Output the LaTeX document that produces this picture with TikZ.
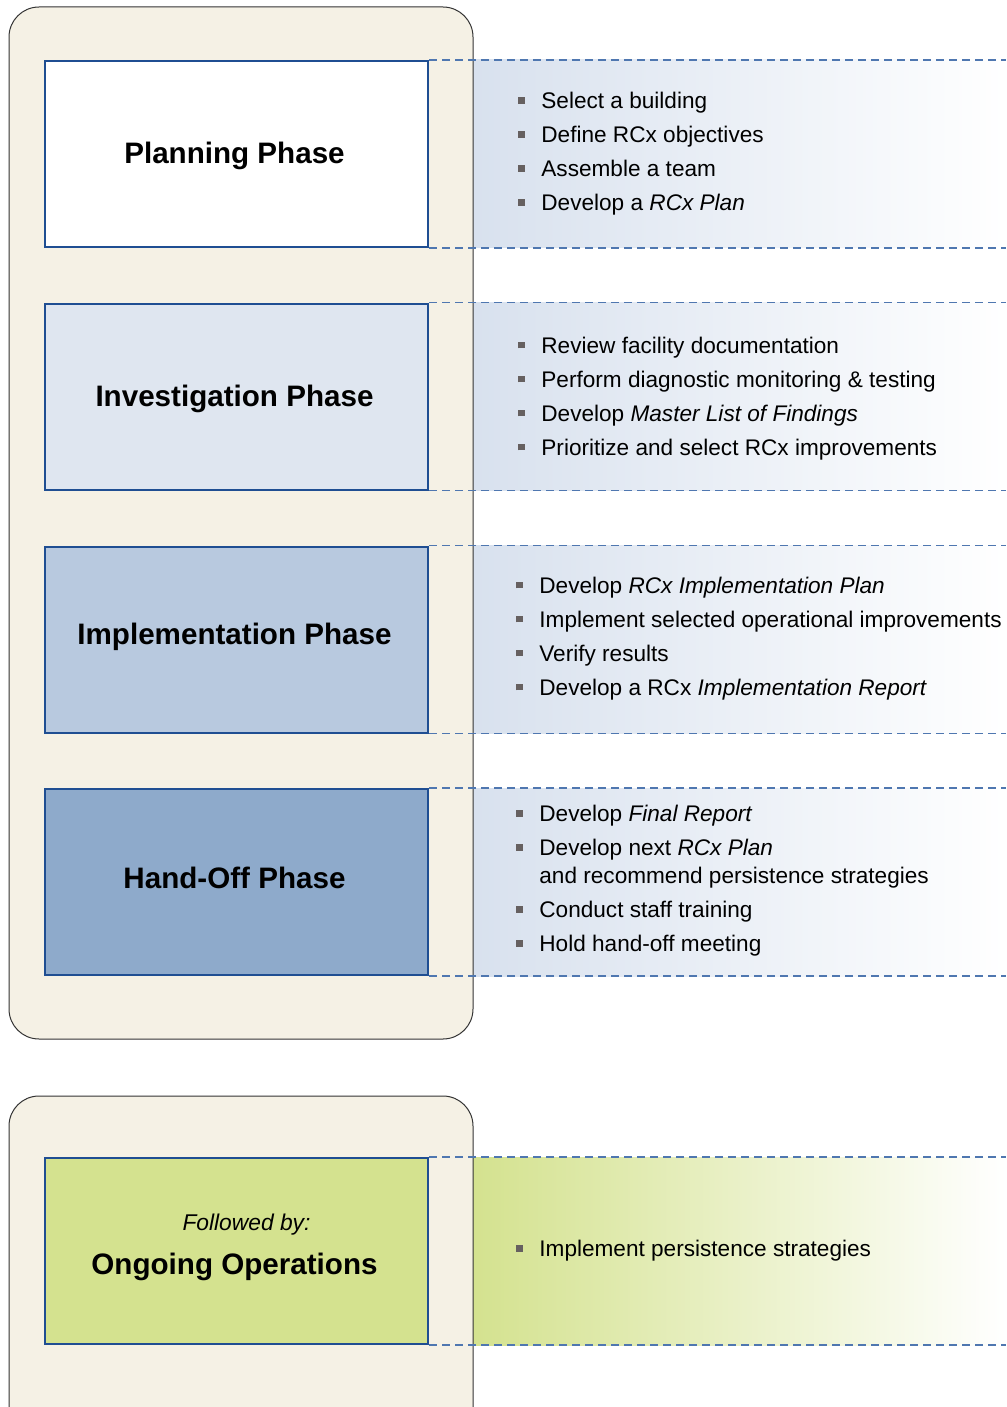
\documentclass[tikz,border=0pt]{standalone}
\usepackage{fontspec}
\setmainfont{Liberation Sans}
\usetikzlibrary{positioning,backgrounds}
\definecolor{rrfill}{HTML}{F5F1E5}
\definecolor{rrdraw}{HTML}{333333}
\definecolor{boxline}{HTML}{1F4E92}
\definecolor{invfill}{HTML}{DFE6F0}
\definecolor{implfill}{HTML}{B8C9DF}
\definecolor{handfill}{HTML}{8EAACB}
\definecolor{ongofill}{HTML}{D4E28F}
\definecolor{bandblue}{HTML}{D8E1EE}
\definecolor{dashcol}{HTML}{4F77B0}
\definecolor{bulgray}{HTML}{666060}
\newcommand\bul{\makebox[11.5pt][l]{\textcolor{bulgray}{\rule[0.22em]{3.4pt}{3.4pt}}}}
\begin{document}
\begin{tikzpicture}
      [x=0.5pt,y=-0.5pt,
       phase/.style={draw=boxline,line width=1pt,minimum width=191.5pt,minimum height=93pt,inner sep=0pt},
       title/.style={anchor=base,inner sep=0pt,font=\fontsize{14.8}{18}\selectfont\bfseries},
       items/.style={inner sep=0pt,align=left,font=\fontsize{11.3}{17}\selectfont},
       dashline/.style={draw=dashcol,line width=0.7pt,dash pattern=on 4pt off 2.5pt},
       frame/.style={fill=rrfill,draw=rrdraw,line width=0.5pt,rounded corners=15pt}]
      \useasboundingbox (0,0) rectangle (1006,1407);
      \clip (0,0) rectangle (1006,1407);
      \coordinate (L) at (473,0);
      \coordinate (R) at (1006,0);
      % the two frames
      \draw[frame] (9,7) rectangle (473,1039);
      \draw[frame] (9,1096) rectangle (473,1460);
      % phases
      \node[phase,fill=white] (plan) at (236.5,154) {};
      \node[phase,fill=invfill] (inv) at (236.5,396.5) {};
      \node[phase,fill=implfill] (impl) at (236.5,639.5) {};
      \node[phase,fill=handfill] (hand) at (236.5,882) {};
      \node[phase,fill=ongofill] (ongo) at (236.5,1251) {};
      \node[title] (plantitle) at ([xshift=-1pt,yshift=-4.65pt]plan.center) {Planning Phase};
      \node[title] (invtitle) at ([xshift=-1pt,yshift=-4.75pt]inv.center) {Investigation Phase};
      \node[title] (impltitle) at ([xshift=-1pt,yshift=-2.4pt]impl.center) {Implementation Phase};
      \node[title] (handtitle) at ([xshift=-1pt,yshift=-3.15pt]hand.center) {Hand-Off Phase};
      \node[title,font=\fontsize{11.4}{14}\selectfont\itshape] (ongonote)
        at ([xshift=5pt,yshift=10.15pt]ongo.center) {Followed by:};
      \node[title] (ongotitle) at ([xshift=-1pt,yshift=-11.65pt]ongo.center) {Ongoing Operations};
      % lists
      \node[items,right=44.5pt of plan.east] (planlist)
        {\bul Select a building\\ \bul Define RCx objectives\\ \bul Assemble a team\\
         \bul Develop a \textit{RCx Plan}};
      \node[items,right=44.5pt of inv.east,yshift=-1pt] (invlist)
        {\bul Review facility documentation\\ \bul Perform diagnostic monitoring \& testing\\
         \bul Develop \textit{Master List of Findings}\\ \bul Prioritize and select RCx improvements};
      \node[items,right=44.5pt of impl.east,yshift=0.5pt,xshift=-1pt] (impllist)
        {\bul Develop \textit{RCx Implementation Plan}\\ \bul Implement selected operational improvements\\
         \bul Verify results\\ \bul Develop a RCx \textit{Implementation Report}};
      \node[items,right=44.5pt of hand.east,yshift=0.5pt,xshift=-1pt] (handlist)
        {\bul Develop \textit{Final Report}\\ \bul Develop next \textit{RCx Plan}\\[-3pt]
         \hspace*{11.5pt}and recommend persistence strategies\\ \bul Conduct staff training\\
         \bul Hold hand-off meeting};
      \node[items,right=44.5pt of ongo.east,xshift=-1pt] (ongolist)
        {\bul Implement persistence strategies};
      % bands and dashed rules
      \begin{scope}[on background layer]
        \foreach \b in {plan,inv,impl,hand}
          \shade[left color=bandblue,right color=white] (\b.north east -| L) rectangle (\b.south east -| R);
        \shade[left color=ongofill,right color=white] (ongo.north east -| L) rectangle (ongo.south east -| R);
      \end{scope}
      \foreach \b in {plan,inv,impl,hand,ongo}{
        \draw[dashline] (\b.north east) -- (\b.north east -| R);
        \draw[dashline] (\b.south east) -- (\b.south east -| R);
      }
    \end{tikzpicture}
\end{document}
